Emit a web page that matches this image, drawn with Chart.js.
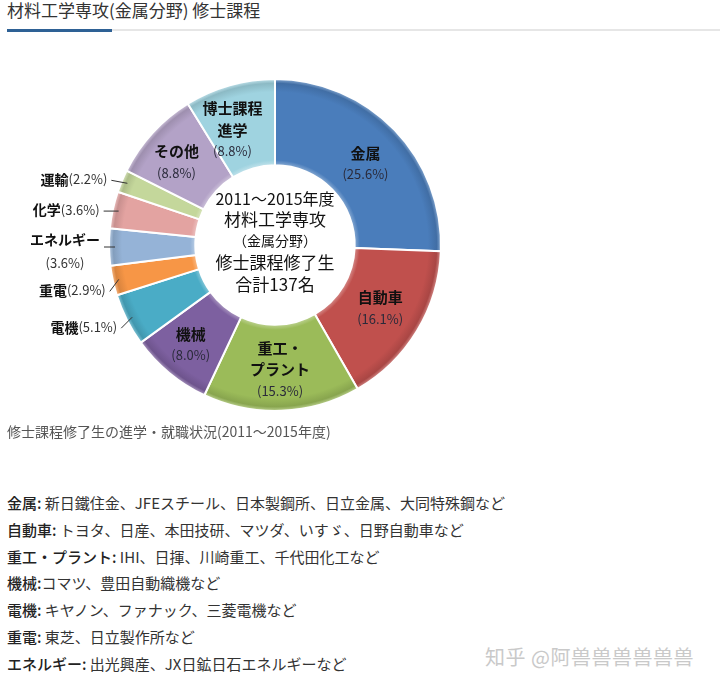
<!DOCTYPE html>
<html><head><meta charset="utf-8">
<script src="https://cdn.jsdelivr.net/npm/chart.js@4"></script>
<style>
html,body{margin:0;padding:0;background:#fff;}
body{width:720px;height:688px;position:relative;overflow:hidden;font-family:"Noto Sans CJK JP","Noto Sans",sans-serif;color:#333;}
#title{position:absolute;left:7px;top:-2px;font-size:17px;line-height:24px;color:#333;white-space:nowrap;}
#rule{position:absolute;left:7px;right:0;top:29px;height:2px;background:#e6e6e6;}
#rule2{position:absolute;left:7px;width:105px;top:29px;height:3px;background:#2e6195;}
#cv{position:absolute;left:0;top:40px;}
#caption{position:absolute;left:7px;top:421px;font-size:14px;line-height:20px;color:#555;white-space:nowrap;}
#list{position:absolute;left:7px;top:490px;font-size:15px;line-height:26.8px;color:#333;white-space:nowrap;}
#list b{font-weight:500;color:#222;}
#wm{position:absolute;left:485px;top:644px;font-size:20px;line-height:26px;color:#c9c9c9;white-space:nowrap;letter-spacing:0.5px;}
</style></head>
<body>
<div id="title">材料工学専攻(金属分野) 修士課程</div>
<div id="rule"></div><div id="rule2"></div>
<canvas id="cv" width="560" height="390"></canvas>
<div id="caption">修士課程修了生の進学・就職状況(2011～2015年度)</div>
<div id="list"></div>
<div id="wm">知乎 @阿兽兽兽兽兽兽</div>
<script>
// ---- data ----
const categories = ["金属","自動車","重工・プラント","機械","電機","重電","エネルギー","化学","運輸","その他","博士課程進学"];
const labelLines = [["金属"],["自動車"],["重工・","プラント"],["機械"],["電機"],["重電"],["エネルギー"],["化学"],["運輸"],["その他"],["博士課程","進学"]];
const shares = [25.6,16.1,15.3,8.0,5.1,2.9,3.6,3.6,2.2,8.8,8.8];
const colors = ["#4a7dbb","#c0504d","#9bbb59","#7d60a0","#4aacc6","#f79646","#95b3d7","#e3a3a1","#c4d79b","#b3a2c7","#9fd3e0"];
const centerLines = ["2011～2015年度","材料工学専攻","（金属分野）","修士課程修了生","合計137名"];
const listItems = [
 ["金属:"," 新日鐵住金、JFEスチール、日本製鋼所、日立金属、大同特殊鋼など"],
 ["自動車:"," トヨタ、日産、本田技研、マツダ、いすゞ、日野自動車など"],
 ["重工・プラント:"," IHI、日揮、川崎重工、千代田化工など"],
 ["機械:","コマツ、豊田自動織機など"],
 ["電機:"," キヤノン、ファナック、三菱電機など"],
 ["重電:"," 東芝、日立製作所など"],
 ["エネルギー:"," 出光興産、JX日鉱日石エネルギーなど"]
];
// ---------------
document.getElementById('list').innerHTML = listItems.map(r=>'<div><b>'+r[0]+'</b>'+r[1]+'</div>').join('');

function shade(hex, amt){
  let n=parseInt(hex.slice(1),16), r=n>>16, g=(n>>8)&255, b=n&255;
  const f=v=> amt>=0 ? Math.round(v+(255-v)*amt) : Math.round(v*(1+amt));
  return 'rgb('+f(r)+','+f(g)+','+f(b)+')';
}
function grad(ctx){
  const base = colors[ctx.dataIndex];
  const c = ctx.chart, a = c.chartArea;
  if(!a) return base;
  const cx=(a.left+a.right)/2, cy=(a.top+a.bottom)/2;
  const R=Math.min(a.right-a.left,a.bottom-a.top)/2-1, r0=R*0.48;
  const g=c.ctx.createRadialGradient(cx,cy,r0,cx,cy,R);
  g.addColorStop(0,shade(base,0.35));
  g.addColorStop(0.06,base);
  g.addColorStop(0.85,base);
  g.addColorStop(0.95,shade(base,-0.12));
  g.addColorStop(1,shade(base,0.35));
  return g;
}

// internal label nudges and external label placement
const inner = {0:{dx:2,dy:4},1:{dx:0,dy:0},2:{dx:0,dy:2},3:{dx:-6,dy:5},9:{dx:-8,dy:0},10:{dx:-9,dy:3}};
const outer = {8:{tx:-20,ty:-4},7:{tx:-19,ty:-1},6:{tx:-15,ty:-7,two:true},5:{tx:-13,ty:11},4:{tx:-15,ty:10}};

const labelPlugin = {
  id:'labels',
  afterDatasetsDraw(chart){
    const ctx=chart.ctx, meta=chart.getDatasetMeta(0);
    const a=chart.chartArea, cx=(a.left+a.right)/2, cy=(a.top+a.bottom)/2;
    ctx.save();
    ctx.textBaseline='middle';
    // center text
    ctx.fillStyle='#111'; ctx.textAlign='center';
    const cy0=[-46,-25,-4,18,40], cf=[16,17,14,17,17];
    centerLines.forEach((t,i)=>{ctx.font=cf[i]+'px "Noto Sans CJK JP"'; ctx.fillText(t,cx,cy+cy0[i]);});
    meta.data.forEach((arc,i)=>{
      const p=arc.getProps(['startAngle','endAngle','innerRadius','outerRadius'],true);
      const mid=(p.startAngle+p.endAngle)/2;
      const pct='('+shares[i].toFixed(1)+'%)';
      if(inner[i]){
        const r=(p.innerRadius+p.outerRadius)/2;
        const x=cx+Math.cos(mid)*r+inner[i].dx, y=cy+Math.sin(mid)*r+inner[i].dy;
        const lines=labelLines[i].concat([pct]);
        const lh=21.5, y0=y-(lines.length-1)*lh/2;
        ctx.textAlign='center';
        lines.forEach((t,k)=>{
          const isPct=k===lines.length-1;
          ctx.font=isPct?'13px "Noto Sans CJK JP"':'bold 15px "Noto Sans CJK JP"';
          ctx.fillStyle=isPct?'#2a2a3a':'#111';
          ctx.fillText(t,x,y0+k*lh);
        });
      } else if(outer[i]){
        const o=outer[i], r=p.outerRadius-6;
        const ax=cx+Math.cos(mid)*r, ay=cy+Math.sin(mid)*r;
        const ex=ax+o.tx, ey=ay+o.ty;
        ctx.strokeStyle='#333'; ctx.lineWidth=1;
        ctx.beginPath(); ctx.moveTo(ex+4,ey+(o.two?7:1)); ctx.lineTo(ax,ay); ctx.stroke();
        ctx.textAlign='right';
        if(o.two){
          ctx.font='bold 14px "Noto Sans CJK JP"'; ctx.fillStyle='#111';
          ctx.fillText(labelLines[i][0],ex,ey);
          ctx.textAlign='center';
          const w=ctx.measureText(labelLines[i][0]).width;
          ctx.font='13px "Noto Sans CJK JP"'; ctx.fillStyle='#333';
          ctx.fillText(pct,ex-w/2,ey+23);
        } else {
          ctx.font='13px "Noto Sans CJK JP"'; ctx.fillStyle='#333';
          ctx.fillText(pct,ex,ey);
          const w=ctx.measureText(pct).width;
          ctx.font='bold 14px "Noto Sans CJK JP"'; ctx.fillStyle='#111';
          ctx.fillText(labelLines[i][0],ex-w,ey);
        }
      }
    });
    ctx.restore();
  }
};

new Chart(document.getElementById('cv'),{
  type:'doughnut',
  data:{labels:categories,datasets:[{data:shares,backgroundColor:grad,borderColor:'#ffffff',borderWidth:2,hoverOffset:0}]},
  options:{
    responsive:false,animation:false,cutout:'48%',
    layout:{padding:{left:108,right:118,top:38,bottom:18}},
    plugins:{legend:{display:false},tooltip:{enabled:false}}
  },
  plugins:[labelPlugin]
});
</script>
</body></html>
